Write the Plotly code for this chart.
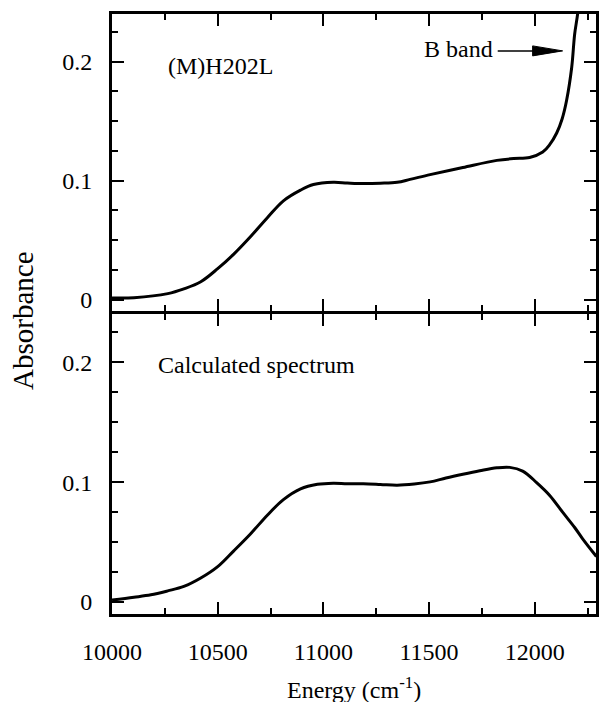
import plotly.graph_objects as go
from plotly.subplots import make_subplots

# Measured (M)H202L absorption spectrum
energy_meas = [10000, 10104, 10264, 10340, 10420, 10500, 10575, 10656, 10736, 10811,
               10892, 10953, 11047, 11113, 11189, 11270, 11349, 11410, 11505, 11660,
               11821, 11900, 11976, 12038, 12070, 12104, 12130, 12151, 12175, 12189,
               12203, 12215]
abs_meas = [0.0014, 0.0016, 0.005, 0.009, 0.015, 0.026, 0.038, 0.053, 0.069, 0.083,
            0.092, 0.0967, 0.0986, 0.098, 0.0975, 0.0978, 0.0986, 0.101, 0.105, 0.111,
            0.117, 0.1185, 0.1194, 0.124, 0.130, 0.140, 0.152, 0.1675, 0.195, 0.223,
            0.240, 0.262]

# Calculated spectrum
energy_calc = [10000, 10104, 10184, 10264, 10340, 10420, 10500, 10575, 10656, 10736,
               10811, 10892, 10972, 11047, 11113, 11189, 11270, 11349, 11430, 11505,
               11580, 11660, 11740, 11821, 11882, 11943, 12009, 12071, 12132, 12190,
               12226, 12292]
abs_calc = [0.0017, 0.004, 0.006, 0.0093, 0.013, 0.020, 0.0295, 0.0425, 0.057, 0.0727,
            0.0855, 0.0945, 0.0983, 0.0992, 0.0988, 0.0988, 0.0982, 0.0975, 0.0985, 0.1003,
            0.1035, 0.1066, 0.1095, 0.112, 0.1124, 0.1093, 0.0997, 0.089, 0.075, 0.062,
            0.053, 0.038]

x_range = [10000, 12290]
y_range = [-0.01, 0.24]
x_ticks = [10000, 10500, 11000, 11500, 12000]
y_ticks = [0, 0.1, 0.2]

FONT = "Liberation Serif"

fig = make_subplots(rows=2, cols=1, shared_xaxes=True, vertical_spacing=0)

fig.add_trace(go.Scatter(x=energy_meas, y=abs_meas, mode="lines",
                         line=dict(color="black", width=3, shape="spline", smoothing=1.0),
                         showlegend=False, hoverinfo="skip"), row=1, col=1)
fig.add_trace(go.Scatter(x=energy_calc, y=abs_calc, mode="lines",
                         line=dict(color="black", width=3, shape="spline", smoothing=1.0),
                         showlegend=False, hoverinfo="skip"), row=2, col=1)

axis_common = dict(showline=True, linewidth=3, linecolor="black", mirror="ticks",
                   ticks="inside", ticklen=12, tickwidth=2, tickcolor="black",
                   showgrid=False, zeroline=False, automargin=False,
                   tickfont=dict(family=FONT, size=24, color="black"))

for r in (1, 2):
    fig.update_xaxes(range=x_range, tickvals=x_ticks, tickformat="d",
                     minor=dict(dtick=250, tick0=10000, ticks="inside", ticklen=6,
                                tickwidth=2, tickcolor="black"),
                     showticklabels=(r == 2), ticklabelstandoff=14,
                     row=r, col=1, **axis_common)
    fig.update_yaxes(range=y_range, tickvals=y_ticks,
                     minor=dict(dtick=0.025, tick0=0, ticks="inside", ticklen=6,
                                tickwidth=2, tickcolor="black"),
                     ticklabelstandoff=12,
                     row=r, col=1, **axis_common)

# a 3px gap so the two frame lines at the panel join coincide
fig.update_layout(yaxis=dict(domain=[0.50417, 1.0]), yaxis2=dict(domain=[0.0, 0.49917]))

ann_font = dict(family=FONT, size=24, color="black")
fig.add_annotation(x=10255, y=0.196, xref="x", yref="y", text="(M)H202L",
                   showarrow=False, xanchor="left", yanchor="middle", font=ann_font)
fig.add_annotation(x=11467, y=0.211, xref="x", yref="y", text="B band",
                   showarrow=False, xanchor="left", yanchor="middle", font=ann_font)
fig.add_annotation(x=10207, y=0.198, xref="x2", yref="y2", text="Calculated spectrum",
                   showarrow=False, xanchor="left", yanchor="middle", font=ann_font)
fig.add_annotation(x=-0.184, y=0.49, xref="paper", yref="paper", text="Absorbance",
                   showarrow=False, textangle=-90, xanchor="center", yanchor="middle",
                   font=dict(family=FONT, size=29, color="black"))
fig.add_annotation(x=0.5, y=-0.123, xref="paper", yref="paper",
                   text="Energy (cm<sup>-1</sup>)",
                   showarrow=False, xanchor="center", yanchor="middle", font=ann_font)

# Arrow pointing to the B band
fig.add_shape(type="line", xref="x", yref="y", x0=11825, x1=12000, y0=0.209, y1=0.209,
              line=dict(color="black", width=1.5))
fig.add_shape(type="path", xref="x", yref="y", xsizemode="pixel", ysizemode="pixel",
              xanchor=12132, yanchor=0.209, path="M0,0 L-30,5 L-30,-5 Z",
              fillcolor="black", line=dict(color="black", width=1))

fig.update_layout(width=599, height=702,
                  margin=dict(l=112, r=3, t=14, b=88),
                  paper_bgcolor="white", plot_bgcolor="white",
                  hovermode=False,
                  font=dict(family=FONT, size=24, color="black"))

fig.write_html("out.html", config={"displayModeBar": False},
               post_script="document.body.style.margin='0';")
